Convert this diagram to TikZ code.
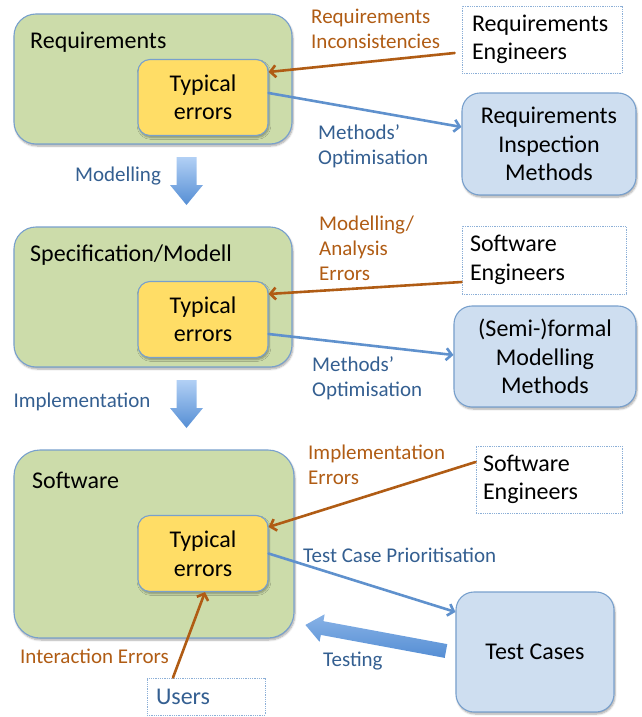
\documentclass[tikz,border=0pt]{standalone}
\usepackage{fontspec}
\setmainfont{Carlito}
\usetikzlibrary{arrows.meta, shadows, shadows.blur, positioning, calc}
\definecolor{phasegreen}{RGB}{204,220,170}
\definecolor{erryellow}{RGB}{255,221,102}
\definecolor{methblue}{RGB}{206,222,240}
\definecolor{edgeblue}{RGB}{120,160,205}
\definecolor{errbrown}{RGB}{176,92,20}
\definecolor{txtblue}{RGB}{52,95,145}
\definecolor{arrblue}{RGB}{95,145,205}
\definecolor{dotblue}{RGB}{140,175,215}
\definecolor{blocklight}{RGB}{178,208,245}
\definecolor{blockdark}{RGB}{85,142,212}
\tikzset{
    boxshadow/.style={blur shadow={shadow xshift=1pt, shadow yshift=-2pt, shadow blur steps=6, shadow opacity=35}},
    phase/.style={draw=edgeblue, line width=1.1pt, fill=phasegreen, rounded corners=22pt, boxshadow},
    errbox/.style={draw=edgeblue, line width=1.1pt, fill=erryellow, rounded corners=12pt, align=center,
        minimum width=130pt, minimum height=76pt, boxshadow},
    methbox/.style={draw=edgeblue, line width=1.1pt, fill=methblue, rounded corners=18pt, align=center, boxshadow},
    actor/.style={draw=dotblue, densely dotted, line width=0.8pt, align=left, inner ysep=0pt},
    phaselbl/.style={anchor=west, inner sep=0pt},
    brownlbl/.style={anchor=west, inner sep=0pt, text=errbrown, align=left, font=\fontsize{21}{25}\selectfont},
    bluelbl/.style={anchor=west, inner sep=0pt, text=txtblue, align=left, font=\fontsize{21}{25}\selectfont},
    brownarr/.style={draw=errbrown, line width=2.6pt, line cap=round, -{Straight Barb[length=5.5pt, width=12pt]}},
    bluearr/.style={draw=arrblue, line width=2.6pt, line cap=round, -{Straight Barb[length=5.5pt, width=12pt]}},
    blockarr/.style={top color=blocklight, bottom color=blockdark, draw=none}
}

\begin{document}
\begin{tikzpicture}[x=1pt, y=-1pt, font=\fontsize{24}{28.5}\selectfont]
    \useasboundingbox (0,0) rectangle (641,717);
    % requirements
    \node[phase, minimum width=278pt, minimum height=130pt] (req) at (153,79) {};
    \node[phaselbl] (reqlbl) at (30,42) {Requirements};
    \node[errbox] (err1) at (203,97.5) {Typical\\errors};
    \node[actor, text width=140pt, inner xsep=10pt, minimum height=67pt] (reqeng) at (542,39.5) {Requirements\\Engineers};
    \node[methbox, minimum width=174pt, minimum height=102pt] (insp) at (549,144) {Requirements\\Inspection\\Methods};
    \node[brownlbl] (incl) at (311,29) {Requirements\\Inconsistencies};
    \node[bluelbl] (opt1) at (318,146) {Methods’\\Optimisation};
    \draw[brownarr] ([shift={(-7,13.5)}]reqeng.west) -- ([shift={(0,-25.5)}]err1.east);
    \draw[bluearr] ([shift={(0,-4.5)}]err1.east) -- ([shift={(0,-17)}]insp.west);
    % modelling
    \node[bluelbl, anchor=center] (modlbl) at (118,176) {Modelling};
    \begin{scope}[shift={(186.5,157)}, rotate=-90]
    \shade[blockarr] (0,-10) -- (28,-10) -- (28,-16.5) -- (48,0) -- (28,16.5) -- (28,10) -- (0,10) -- cycle;
    \end{scope}
    % specification
    \node[phase, minimum width=278pt, minimum height=140pt] (spec) at (153,297) {};
    \node[phaselbl] (speclbl) at (30,255) {Specification/Modell};
    \node[errbox] (err2) at (203,319.5) {Typical\\errors};
    \node[actor, text width=148pt, inner xsep=8pt, minimum height=68pt] (sweng1) at (544,260) {Software\\Engineers};
    \node[methbox, minimum width=182pt, minimum height=101pt] (semi) at (545,356.5) {(Semi-)formal\\Modelling\\Methods};
    \node[brownlbl] (anl) at (319,248) {Modelling/\\Analysis\\Errors};
    \node[bluelbl] (opt2) at (312,378.5) {Methods’\\Optimisation};
    \draw[brownarr] ([shift={(0,22)}]sweng1.west) -- ([shift={(0,-25.5)}]err2.east);
    \draw[bluearr] ([shift={(0,14.5)}]err2.east) -- ([shift={(0,-1.5)}]semi.west);
    % implementation
    \node[bluelbl, anchor=center] (impllbl) at (82,402) {Implementation};
    \begin{scope}[shift={(186.5,380)}, rotate=-90]
    \shade[blockarr] (0,-10) -- (28,-10) -- (28,-16.5) -- (48,0) -- (28,16.5) -- (28,10) -- (0,10) -- cycle;
    \end{scope}
    % software
    \node[phase, rounded corners=26pt, minimum width=280pt, minimum height=188pt] (sw) at (154,544) {};
    \node[phaselbl] (swlbl) at (32,480) {Software};
    \node[errbox] (err3) at (203,553.5) {Typical\\errors};
    \node[actor, text width=132pt, inner xsep=7pt, minimum height=67pt] (sweng2) at (549,479.5) {Software\\Engineers};
    \node[methbox, minimum width=158pt, minimum height=120pt] (tc) at (535,652) {Test Cases};
    \node[actor, text=txtblue, text width=100pt, inner xsep=9pt, minimum height=37pt] (users) at (206,696.5) {Users};
    \node[brownlbl] (implerr) at (308,464.5) {Implementation\\Errors};
    \node[bluelbl] (tcp) at (303,555) {Test Case Prioritisation};
    \node[bluelbl] (testlbl) at (323,661) {Testing};
    \node[brownlbl] (interr) at (20,656) {Interaction Errors};
    \draw[brownarr] ([shift={(0,-17.5)}]sweng2.west) -- ([shift={(0,-26.5)}]err3.east);
    \draw[bluearr] (err3.east) -- ([shift={(0,-40)}]tc.west);
    \draw[brownarr] ([shift={(-33,0)}]users.north) -- ([shift={(2,0)}]err3.south);
    % testing
    \begin{scope}[shift={(446,651)}, rotate=169.5]
    \shade[blockarr, top color=blocklight!55!blockdark, bottom color=blockdark] (0,-7) -- (126,-7) -- (126,-14) -- (143,0) -- (126,14) -- (126,7) -- (0,7) -- cycle;
    \end{scope}
\end{tikzpicture}
\end{document}
